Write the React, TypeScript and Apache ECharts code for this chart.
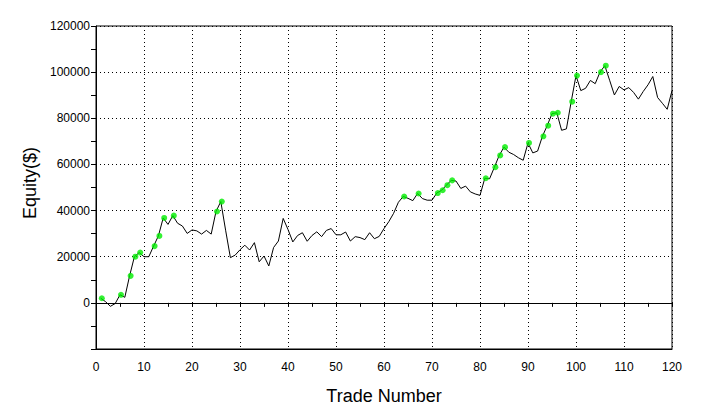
import React, { useEffect, useRef } from "react";
import * as echarts from "echarts";

const tradeNumbers: number[] = Array.from({ length: 120 }, (_, i) => i + 1);

const equity: number[] = [
  2000, 500, -1500, -300, 3500, 2400, 11700, 20000, 21800, 20000,
  20000, 24600, 29000, 36800, 34000, 37800, 34500, 33300, 30100, 31600,
  31200, 29800, 31400, 29800, 39600, 43900, 31500, 19600, 20700, 23000,
  25000, 22900, 26100, 17800, 20300, 16000, 24000, 26800, 36600, 31800,
  26400, 29200, 30400, 26700, 29200, 30800, 28700, 31400, 32200, 29500,
  29500, 30700, 26800, 28700, 28300, 27400, 30400, 27800, 28800, 32200,
  35200, 38800, 43600, 46100, 45300, 44300, 47400, 45200, 44500, 44500,
  47600, 48800, 51000, 53100, 52800, 49600, 50600, 48100, 47200, 46600,
  54000, 53800, 58800, 63900, 67500, 65300, 64300, 62900, 61800, 69300,
  65000, 65800, 72200, 76800, 82000, 82400, 74800, 75400, 87200, 98500,
  92000, 93000, 96400, 95000, 100000, 102800, 96500, 90100, 93800, 92300,
  93300, 91200, 88300, 91600, 94500, 98100, 89000, 86500, 83900, 92000,
];

const newHighTrades: number[] = [
  1, 5, 7, 8, 9, 12, 13, 14, 16, 25, 26, 64, 67, 71, 72, 73, 74, 81, 83, 84,
  85, 90, 93, 94, 95, 96, 99, 100, 105, 106,
];

const xTicks: number[] = [0, 10, 20, 30, 40, 50, 60, 70, 80, 90, 100, 110, 120];
const yTicks: number[] = [-20000, 0, 20000, 40000, 60000, 80000, 100000, 120000];

const FONT = "'Liberation Sans', Arial, sans-serif";

export default function App() {
  const ref = useRef<HTMLDivElement | null>(null);

  useEffect(() => {
    if (!ref.current) return;
    const chart = echarts.init(ref.current, null, { renderer: "svg" });
    const lineData = tradeNumbers.map((t, i) => [t, equity[i]]);
    const highData = newHighTrades.map((t) => [t, equity[t - 1]]);
    const xMin = xTicks[0];
    const xMax = xTicks[xTicks.length - 1];
    const yMin = yTicks[0];
    const yMax = yTicks[yTicks.length - 1];

    chart.setOption({
      animation: false,
      backgroundColor: "#ffffff",
      grid: {
        left: 96,
        top: 26,
        width: 576,
        height: 323,
        show: true,
        borderColor: "#000",
        borderWidth: 1,
        backgroundColor: "transparent",
      },
      xAxis: [
        {
          type: "value",
          min: xMin,
          max: xMax,
          interval: 10,
          position: "bottom",
          axisLine: { onZero: false, lineStyle: { color: "#000", width: 1 } },
          axisTick: { show: false },
          axisLabel: {
            color: "#000",
            fontSize: 12,
            fontFamily: FONT,
            margin: 12,
            showMinLabel: true,
            showMaxLabel: true,
          },
          splitLine: {
            show: true,
            lineStyle: { color: "#000", type: [1, 3], width: 1 },
          },
        },
        {
          type: "value",
          min: xMin,
          max: xMax,
          interval: 5,
          position: "bottom",
          axisLine: { show: true, onZero: true, lineStyle: { color: "#000", width: 1 } },
          axisTick: { show: true, length: 4, lineStyle: { color: "#000" } },
          axisLabel: { show: false },
          splitLine: { show: false },
        },
      ],
      yAxis: {
        type: "value",
        min: yMin,
        max: yMax,
        interval: 20000,
        axisLine: { show: true, onZero: false, lineStyle: { color: "#000", width: 1 } },
        axisTick: { show: true, length: 5, lineStyle: { color: "#000" } },
        minorTick: { show: true, splitNumber: 2, length: 5, lineStyle: { color: "#000" } },
        axisLabel: {
          color: "#000",
          fontSize: 12,
          fontFamily: FONT,
          margin: 6,
          formatter: (v: number) => (v < 0 ? "" : String(v)),
        },
        splitLine: {
          show: true,
          lineStyle: { color: "#000", type: [1, 3], width: 1 },
        },
      },
      graphic: [
        {
          type: "text",
          x: 30,
          y: 183,
          rotation: Math.PI / 2,
          style: {
            text: "Equity($)",
            font: `18px ${FONT}`,
            fill: "#000",
            align: "center",
            verticalAlign: "middle",
          },
        },
        {
          type: "text",
          x: 384,
          y: 396,
          style: {
            text: "Trade Number",
            font: `18px ${FONT}`,
            fill: "#000",
            align: "center",
            verticalAlign: "middle",
          },
        },
      ],
      series: [
        {
          type: "line",
          xAxisIndex: 0,
          data: lineData,
          symbol: "none",
          lineStyle: { color: "#000", width: 1 },
          z: 3,
        },
        {
          type: "scatter",
          xAxisIndex: 0,
          data: highData,
          symbol: "circle",
          symbolSize: 6,
          symbolOffset: [1, 0],
          itemStyle: { color: "#00ee00" },
          z: 4,
        },
      ],
    });
    return () => chart.dispose();
  }, []);

  return (
    <div
      ref={ref}
      style={{ position: "fixed", left: 0, top: 0, width: 717, height: 417, background: "#fff" }}
    />
  );
}
